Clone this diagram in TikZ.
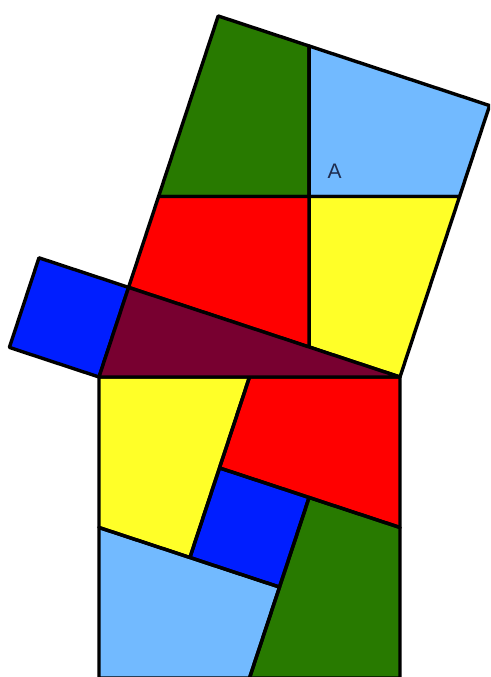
\documentclass[tikz,border=0pt]{standalone}
\usepackage{fontspec}
\setsansfont{Liberation Sans}
\definecolor{pgreen}{RGB}{40,122,0}
\definecolor{plblue}{RGB}{114,186,255}
\definecolor{pred}{RGB}{255,0,0}
\definecolor{pyellow}{RGB}{255,255,40}
\definecolor{pblue}{RGB}{0,30,255}
\definecolor{pmaroon}{RGB}{120,0,48}
\definecolor{plabel}{RGB}{30,45,80}
\tikzset{piece/.style={draw=black,line width=3.4pt,line join=round}}
\begin{document}
\begin{tikzpicture}[x=1pt,y=1pt]
\useasboundingbox (0,0) rectangle (490,677);
\begin{scope}
\clip (0,0) rectangle (490,677);
% key points
\coordinate (A) at (99,300);
\coordinate (B) at (400,300);
\coordinate (C) at (128.58,389.60);
\coordinate (D) at (218.18,661.02);
\coordinate (E) at (489.60,571.42);
\coordinate (F) at (38.98,419.18);
\coordinate (G) at (9.40,329.58);
\coordinate (O) at (309.09,480.51);
\coordinate (P1) at (158.59,480.51);
\coordinate (P2) at (459.59,480.51);
\coordinate (P3) at (309.09,631.01);
\coordinate (P4) at (309.09,330.01);
% hypotenuse square pieces
\coordinate (Yc) at (189.91,119.49);
\coordinate (Rc) at (219.49,209.09);
\coordinate (Gc) at (309.09,179.51);
\coordinate (Lc) at (279.51,89.91);
\coordinate (T1) at (249.50,300);
\coordinate (T2) at (99,149.50);
\coordinate (T3) at (400,149.50);
\coordinate (T4) at (249.50,-1);
\coordinate (Ap) at (99,-1);
\coordinate (Bp) at (400,-1);
% bottom square
\fill[pyellow] (A) -- (T1) -- (Yc) -- (T2) -- cycle;
\fill[pred] (T1) -- (B) -- (T3) -- (Gc) -- (Rc) -- cycle;
\fill[pgreen] (Gc) -- (T3) -- (Bp) -- (T4) -- cycle;
\fill[plblue] (T2) -- (Yc) -- (Lc) -- (T4) -- (Ap) -- cycle;
\fill[pblue] (Rc) -- (Gc) -- (Lc) -- (Yc) -- cycle;
\draw[piece] (A) -- (T1) -- (Yc) -- (T2) -- cycle;
\draw[piece] (T1) -- (B) -- (T3) -- (Gc) -- (Rc) -- cycle;
\draw[piece] (Gc) -- (T3) -- (Bp) -- (T4) -- cycle;
\draw[piece] (T2) -- (Yc) -- (Lc) -- (T4) -- (Ap) -- cycle;
\draw[piece] (Rc) -- (Gc) -- (Lc) -- (Yc) -- cycle;
% top square
\draw[piece,fill=pgreen] (D) -- (P3) -- (O) -- (P1) -- cycle;
\draw[piece,fill=plblue] (P3) -- (E) -- (P2) -- (O) -- cycle;
\draw[piece,fill=pyellow] (O) -- (P2) -- (B) -- (P4) -- cycle;
\draw[piece,fill=pred] (P1) -- (O) -- (P4) -- (C) -- cycle;
% short leg square
\draw[piece,fill=pblue] (C) -- (F) -- (G) -- (A) -- cycle;
% triangle
\draw[piece,fill=pmaroon] (A) -- (B) -- (C) -- cycle;
\end{scope}
\node[font=\sffamily\fontsize{21}{21}\selectfont,text=plabel,inner sep=0pt] (lblA) at (334.5,505.5) {A};
\end{tikzpicture}
\end{document}
